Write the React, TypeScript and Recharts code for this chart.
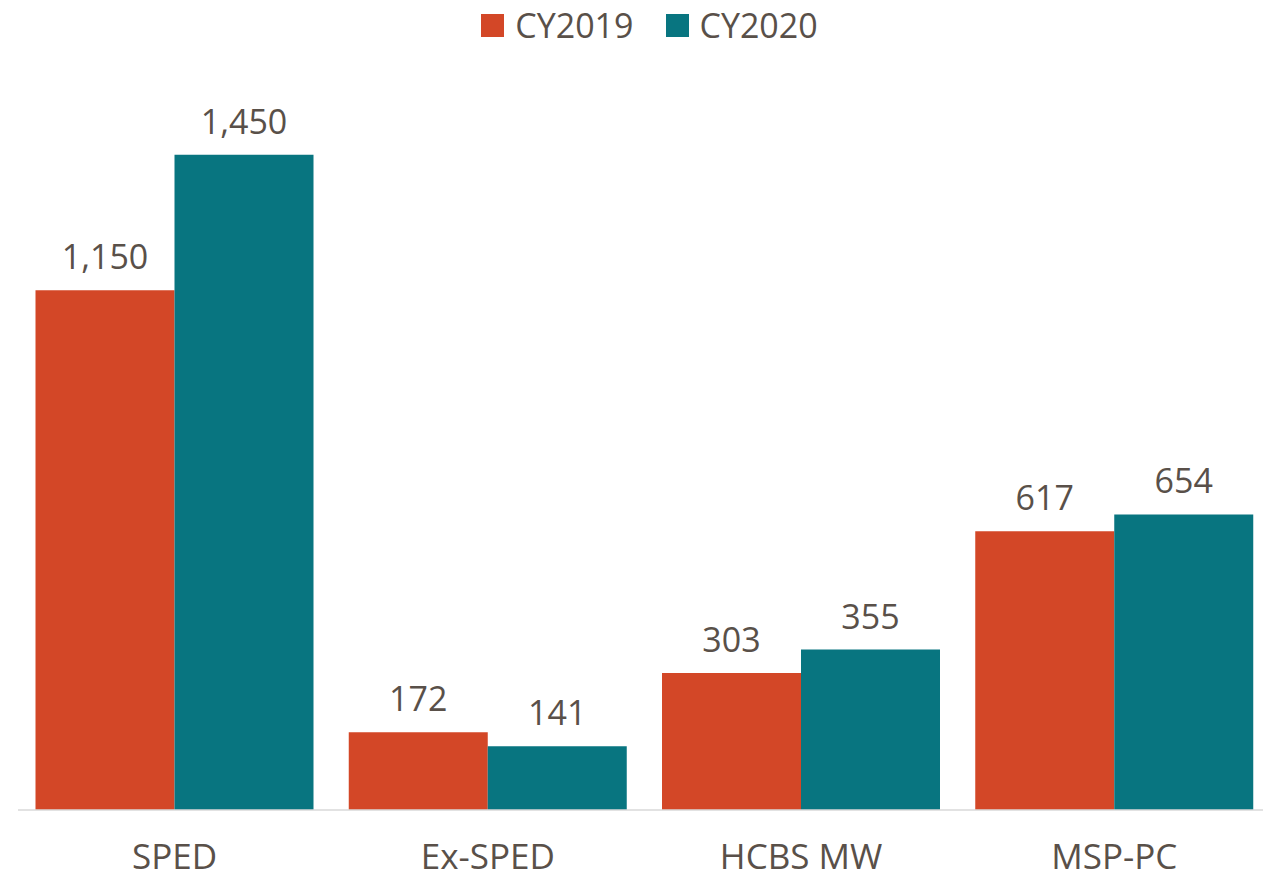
import React from "react";
import { BarChart, Bar, XAxis, YAxis, Legend, LabelList } from "recharts";

const categories = ["SPED", "Ex-SPED", "HCBS MW", "MSP-PC"];
const cy2019 = [1150, 172, 303, 617];
const cy2020 = [1450, 141, 355, 654];

const data = categories.map((name, i) => ({
  name,
  cy2019: cy2019[i],
  cy2020: cy2020[i],
}));

const TEXT = "#595049";
const FONT = "'Open Sans', 'Noto Sans', sans-serif";

const series = [
  { key: "cy2019", label: "CY2019", color: "#D34727" },
  { key: "cy2020", label: "CY2020", color: "#087580" },
];

const formatValue = (v: number) => v.toLocaleString("en-US");

const LegendContent = () => (
  <div
    style={{
      display: "flex",
      justifyContent: "center",
      gap: 32,
      paddingTop: 5,
      paddingLeft: 10,
      fontFamily: FONT,
      fontSize: 34,
      color: TEXT,
      lineHeight: "40px",
    }}
  >
    {series.map((s) => (
      <div key={s.key} style={{ display: "flex", alignItems: "center", gap: 11 }}>
        <span style={{ width: 23, height: 23, background: s.color, display: "inline-block" }} />
        <span>{s.label}</span>
      </div>
    ))}
  </div>
);

const App: React.FC = () => {
  return (
    <div style={{ margin: -8, width: 1271, height: 881, background: "#fff" }}>
      <BarChart
        width={1271}
        height={881}
        data={data}
        margin={{ top: 0, right: 0, bottom: 0, left: 18 }}
        barCategoryGap={17.5}
        barGap={0}
      >
        <Legend verticalAlign="top" height={87} content={<LegendContent />} />
        <XAxis
          dataKey="name"
          height={71}
          tickLine={false}
          axisLine={{ stroke: "#D9D9D9", strokeWidth: 1.5 }}
          tick={{ fill: TEXT, fontSize: 35, fontFamily: FONT }}
          tickMargin={28}
          interval={0}
        />
        <YAxis hide domain={[0, 1600]} />
        {series.map((s) => (
          <Bar key={s.key} dataKey={s.key} fill={s.color} isAnimationActive={false}>
            <LabelList
              dataKey={s.key}
              position="top"
              offset={21}
              formatter={(v: any) => formatValue(Number(v))}
              style={{ fill: TEXT, fontSize: 34, fontFamily: FONT }}
            />
          </Bar>
        ))}
      </BarChart>
    </div>
  );
};

export default App;
